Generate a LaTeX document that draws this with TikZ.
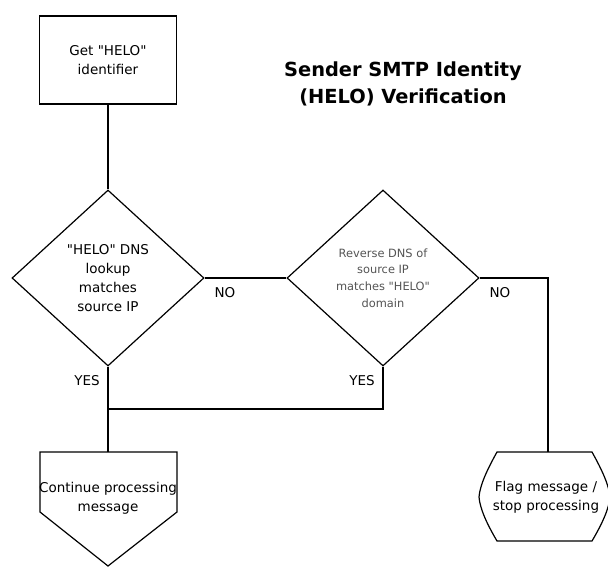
\documentclass[tikz,border=0pt]{standalone}
\usepackage{fontspec}
\setmainfont{DejaVu Sans}
\usetikzlibrary{shapes.geometric,calc}
\newcommand{\hq}[1]{\textquotedbl#1\textquotedbl}
\tikzstyle{every node}=[font=\fontsize{13.5}{19}\selectfont,align=center]
\tikzstyle{process}=[draw,rectangle,minimum width=137pt,minimum height=88pt,inner sep=0pt]
\tikzstyle{decision}=[draw,diamond,minimum width=192pt,minimum height=176pt,inner sep=0pt]
\tikzstyle{answer}=[inner sep=0pt]
\definecolor{g}{rgb}{0.33,0.33,0.33}

\begin{document}
\begin{tikzpicture}[x=1pt,y=-1pt,line width=1.2pt]
	\useasboundingbox (0,0) rectangle (608,567);
	\node[process] (get) at (108,60) {Get \hq{HELO}\\ identifier};
	\node[font=\bfseries\fontsize{19.4}{27}\selectfont] (title) at (403,84) {Sender SMTP Identity\\(HELO) Verification};
	\node[decision] (dns) at (108,278) {\hq{HELO} DNS\\lookup\\matches\\source IP};
	\node[decision,text=g,font=\fontsize{11.4}{16.7}\selectfont] (rdns) at (383,278) {Reverse DNS of\\source IP\\matches \hq{HELO}\\domain};
		\node[answer] (no1) at (225,293) {NO};
		\node[answer] (no2) at (500,293) {NO};
		\node[answer] (yes1) at (87,381) {YES};
		\node[answer] (yes2) at (362,381) {YES};
	\coordinate (j1) at (108,409);
	\coordinate (j2) at (383,409);
	\coordinate (c2) at (548,278);
	% end points
	\node (cont) at (108,498) {Continue processing\\message};
	\coordinate (ctop) at (108,452);
	\draw (40,452) -- (177,452) -- (177,512) -- (108,566) -- (40,512) -- cycle;
	\node (flag) at (546,497) {Flag message /\\stop processing};
	\coordinate (ftop) at (548,452);
	\draw (497,452) -- (592,452) .. controls (602,470) and (609,485) .. (610,497)
		.. controls (609,509) and (602,524) .. (592,541) -- (497,541)
		.. controls (487,524) and (480,509) .. (479,497)
		.. controls (480,485) and (487,470) .. (497,452) -- cycle;
	\path[draw]
		(get)	--	(dns)
		(dns)	--	(rdns)
		(rdns.east)	--	(c2)	--	(ftop)
		(rdns.south)	--	(j2)	--	(j1)
		(dns.south)	--	(ctop);
\end{tikzpicture}
\end{document}
